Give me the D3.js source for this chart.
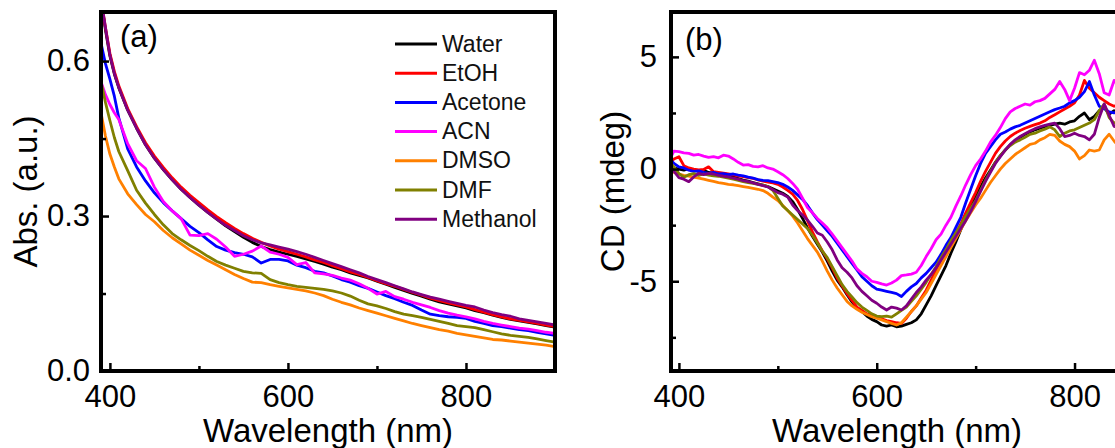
<!DOCTYPE html>
<html>
<head>
<meta charset="utf-8">
<script src="https://cdn.jsdelivr.net/npm/d3@7"></script>
<style>
body { margin: 0; background: #fff; }
svg { display: block; font-family: "Liberation Sans", Arial, sans-serif; }
</style>
</head>
<body>
<svg class="chart" width="1115" height="448"></svg>
<script>
/* Absorption (a) and CD (b) spectra of the sample in seven solvents */

var solvents = ["Water", "EtOH", "Acetone", "ACN", "DMSO", "DMF", "Methanol"];
var lineColors = ["#000000", "#ff0000", "#0000ff", "#ff00ff", "#ff8000", "#808000", "#800080"];

// (a) absorbance
var absWavelength = [390, 395, 400, 405, 410, 420, 430, 440, 450, 460, 470, 480, 490, 500, 510,
	520, 530, 540, 550, 560, 570, 580, 590, 600, 610, 620, 630, 640, 650, 660, 670, 680, 690, 700, 710,
	720, 730, 740, 750, 760, 770, 780, 790, 800, 810, 820, 830, 840, 850, 860, 870, 880, 890, 900];
var absWater = [0.72, 0.66, 0.61, 0.575, 0.548,
	0.505, 0.47, 0.438, 0.412, 0.39, 0.37, 0.352, 0.336, 0.321, 0.307,
	0.294, 0.281, 0.27, 0.259, 0.249, 0.241, 0.235, 0.23, 0.226, 0.222,
	0.217, 0.212, 0.207, 0.201, 0.196, 0.19, 0.185, 0.18, 0.174, 0.168,
	0.162, 0.156, 0.15, 0.145, 0.139, 0.134, 0.13, 0.126, 0.122, 0.117,
	0.113, 0.108, 0.104, 0.1, 0.097, 0.094, 0.091, 0.088, 0.085];
var absEtOH = [0.72, 0.665, 0.615, 0.58, 0.552,
	0.508, 0.473, 0.442, 0.416, 0.394, 0.374, 0.356, 0.34, 0.326, 0.312,
	0.299, 0.287, 0.276, 0.266, 0.257, 0.249, 0.242, 0.236, 0.231, 0.226,
	0.221, 0.215, 0.21, 0.204, 0.198, 0.192, 0.187, 0.181, 0.175, 0.169,
	0.164, 0.158, 0.152, 0.147, 0.141, 0.136, 0.132, 0.128, 0.124, 0.119,
	0.114, 0.109, 0.105, 0.101, 0.098, 0.095, 0.092, 0.089, 0.086];
var absAcetone = [0.635, 0.595, 0.565, 0.532, 0.49,
	0.43, 0.395, 0.368, 0.345, 0.326, 0.31, 0.295, 0.28, 0.268, 0.254,
	0.241, 0.234, 0.229, 0.226, 0.221, 0.209, 0.216, 0.216, 0.213, 0.205,
	0.2, 0.193, 0.19, 0.184, 0.177, 0.172, 0.165, 0.16, 0.153, 0.146,
	0.14, 0.133, 0.127, 0.118, 0.11, 0.107, 0.105, 0.104, 0.102, 0.096,
	0.092, 0.088, 0.086, 0.083, 0.08, 0.078, 0.075, 0.072, 0.069];
var absACN = [0.56, 0.535, 0.516, 0.5, 0.487,
	0.44, 0.407, 0.392, 0.356, 0.328, 0.31, 0.295, 0.263, 0.262, 0.266,
	0.255, 0.24, 0.222, 0.226, 0.232, 0.242, 0.23, 0.226, 0.22, 0.206,
	0.21, 0.19, 0.188, 0.185, 0.18, 0.176, 0.169, 0.16, 0.149, 0.154,
	0.144, 0.139, 0.133, 0.128, 0.123, 0.117, 0.112, 0.108, 0.105, 0.101,
	0.096, 0.092, 0.089, 0.086, 0.083, 0.081, 0.078, 0.075, 0.073];
var absDMSO = [0.5, 0.455, 0.42, 0.395, 0.372,
	0.343, 0.322, 0.303, 0.289, 0.272, 0.258, 0.246, 0.234, 0.224, 0.214,
	0.205, 0.196, 0.187, 0.179, 0.172, 0.171, 0.167, 0.164, 0.161, 0.158,
	0.155, 0.151, 0.146, 0.139, 0.133, 0.128, 0.122, 0.117, 0.112, 0.107,
	0.102, 0.097, 0.092, 0.088, 0.084, 0.08, 0.077, 0.073, 0.07, 0.067,
	0.064, 0.061, 0.06, 0.058, 0.056, 0.054, 0.052, 0.05, 0.047];
var absDMF = [0.56, 0.52, 0.485, 0.452, 0.425,
	0.388, 0.35, 0.325, 0.303, 0.283, 0.266, 0.254, 0.243, 0.233, 0.222,
	0.212, 0.205, 0.199, 0.193, 0.19, 0.189, 0.177, 0.171, 0.167, 0.164,
	0.162, 0.16, 0.158, 0.155, 0.151, 0.145, 0.137, 0.13, 0.126, 0.121,
	0.115, 0.11, 0.107, 0.104, 0.1, 0.096, 0.092, 0.088, 0.086, 0.084,
	0.08, 0.076, 0.072, 0.069, 0.067, 0.065, 0.062, 0.059, 0.056];
var absMethanol = [0.72, 0.665, 0.612, 0.576, 0.549,
	0.505, 0.47, 0.438, 0.412, 0.39, 0.37, 0.352, 0.336, 0.321, 0.307,
	0.294, 0.282, 0.272, 0.262, 0.254, 0.248, 0.244, 0.24, 0.236, 0.231,
	0.226, 0.22, 0.214, 0.208, 0.202, 0.196, 0.19, 0.183, 0.177, 0.171,
	0.165, 0.159, 0.153, 0.148, 0.143, 0.139, 0.135, 0.131, 0.127, 0.124,
	0.118, 0.113, 0.109, 0.106, 0.101, 0.098, 0.095, 0.092, 0.089];

// (b) circular dichroism, mdeg
var cdWavelength = [392, 395,
	400, 405, 410, 415, 420, 425, 430, 435, 440, 445, 450, 455, 460, 465, 470, 475, 480, 485, 490, 495,
	500, 505, 510, 515, 520, 525, 530, 535, 540, 545, 550, 555, 560, 565, 570, 575, 580, 585, 590, 595,
	600, 605, 610, 615, 620, 625, 630, 635, 640, 645, 650, 655, 660, 665, 670, 675, 680, 685, 690, 695,
	700, 705, 710, 715, 720, 725, 730, 735, 740, 745, 750, 755, 760, 765, 770, 775, 780, 785, 790, 795,
	800, 805, 810, 815, 820, 825, 830, 835, 840, 845, 850];
var cdWater = [0.10, 0.05,
	0.00, -0.05, 0.02, -0.04, -0.10, -0.06, -0.15, -0.19, -0.22, -0.25, -0.30, -0.35, -0.42, -0.49, -0.54, -0.60, -0.66, -0.72, -0.78, -0.88,
	-0.98, -1.08, -1.22, -1.45, -1.80, -2.20, -2.62, -3.00, -3.35, -3.70, -4.10, -4.55, -4.95, -5.25, -5.60, -5.92, -6.18, -6.35, -6.55, -6.70,
	-6.80, -6.95, -7.00, -6.95, -7.03, -7.00, -6.92, -6.85, -6.72, -6.45, -6.05, -5.65, -5.20, -4.75, -4.30, -3.75, -3.25, -2.70, -2.15, -1.70,
	-1.25, -0.80, -0.40, -0.05, 0.30, 0.60, 0.85, 1.08, 1.25, 1.42, 1.55, 1.65, 1.75, 1.82, 1.89, 1.95, 2.00, 2.05, 2.00, 2.10,
	2.15, 2.35, 2.50, 2.20, 2.35, 2.60, 2.75, 2.45, 2.60, 2.50, 2.55];
var cdEtOH = [0.33, 0.45,
	0.55, 0.15, 0.05, 0.00, -0.04, -0.02, 0.10, -0.12, -0.15, -0.18, -0.22, -0.26, -0.30, -0.34, -0.38, -0.42, -0.48, -0.54, -0.58, -0.62,
	-0.68, -0.80, -0.95, -1.12, -1.40, -1.80, -2.30, -2.80, -3.25, -3.65, -4.00, -4.40, -4.85, -5.20, -5.55, -5.85, -6.15, -6.30, -6.45, -6.50,
	-6.60, -6.68, -6.75, -6.80, -6.85, -6.88, -6.65, -6.35, -6.10, -5.75, -5.40, -4.95, -4.50, -4.05, -3.70, -3.25, -2.85, -2.45, -1.95, -1.50,
	-1.05, -0.55, -0.10, 0.30, 0.70, 1.00, 1.25, 1.45, 1.60, 1.72, 1.82, 1.90, 1.98, 2.05, 2.15, 2.30, 2.42, 2.55, 2.68, 2.80,
	2.95, 3.30, 3.95, 3.60, 3.40, 3.20, 3.05, 2.90, 2.80, 2.85, 2.80];
var cdAcetone = [0.40, 0.25,
	0.10, 0.05, -0.05, -0.10, -0.08, -0.15, -0.19, -0.15, -0.22, -0.20, -0.25, -0.22, -0.27, -0.30, -0.36, -0.40, -0.47, -0.50, -0.52, -0.56,
	-0.60, -0.68, -0.80, -0.95, -1.15, -1.35, -1.62, -1.95, -2.25, -2.50, -2.75, -3.00, -3.30, -3.60, -3.90, -4.20, -4.50, -4.80, -5.00, -5.20,
	-5.35, -5.40, -5.45, -5.50, -5.55, -5.68, -5.45, -5.25, -5.10, -4.85, -4.65, -4.40, -4.15, -3.80, -3.40, -3.05, -2.60, -2.15, -1.50, -0.90,
	-0.30, 0.25, 0.70, 1.00, 1.30, 1.55, 1.65, 1.78, 1.88, 1.95, 2.05, 2.15, 2.25, 2.35, 2.45, 2.55, 2.65, 2.72, 2.80, 2.95,
	3.05, 3.20, 3.45, 3.90, 3.30, 2.80, 2.70, 2.55, 2.50, 2.60, 2.55];
var cdACN = [0.55, 0.80,
	0.78, 0.72, 0.70, 0.62, 0.65, 0.58, 0.52, 0.55, 0.50, 0.62, 0.58, 0.45, 0.30, 0.18, 0.20, 0.12, 0.10, 0.15, 0.05, 0.00,
	-0.12, -0.25, -0.42, -0.64, -0.90, -1.30, -1.72, -1.95, -2.20, -2.40, -2.62, -2.90, -3.20, -3.50, -3.80, -4.10, -4.45, -4.65, -4.80, -5.00,
	-5.05, -5.12, -5.17, -5.08, -4.95, -4.75, -4.72, -4.68, -4.60, -4.30, -3.90, -3.55, -3.15, -2.90, -2.50, -2.15, -1.65, -1.20, -0.70, -0.25,
	0.15, 0.45, 0.80, 1.20, 1.50, 1.85, 2.25, 2.55, 2.70, 2.80, 2.90, 2.85, 3.00, 3.05, 3.15, 3.35, 3.55, 3.90, 3.55, 3.05,
	3.60, 4.30, 4.20, 4.40, 4.85, 4.25, 3.40, 3.30, 3.95, 3.70, 3.80];
var cdDMSO = [-0.05, -0.15,
	-0.22, -0.28, -0.32, -0.36, -0.40, -0.45, -0.50, -0.55, -0.60, -0.64, -0.68, -0.70, -0.74, -0.78, -0.82, -0.86, -0.90, -0.96, -1.08, -1.25,
	-1.40, -1.62, -1.85, -2.10, -2.40, -2.75, -3.10, -3.40, -3.70, -4.10, -4.55, -4.95, -5.30, -5.60, -5.90, -6.10, -6.25, -6.38, -6.48, -6.58,
	-6.65, -6.72, -6.80, -6.88, -6.95, -6.85, -6.60, -6.35, -6.10, -5.80, -5.50, -5.10, -4.70, -4.30, -3.90, -3.50, -3.10, -2.70, -2.30, -1.95,
	-1.60, -1.30, -0.95, -0.60, -0.30, 0.00, 0.25, 0.45, 0.65, 0.80, 0.95, 1.10, 1.15, 1.30, 1.40, 1.55, 1.50, 1.25, 1.10, 1.00,
	0.80, 0.45, 0.60, 0.85, 0.80, 0.85, 1.30, 1.55, 1.25, 1.00, 0.90];
var cdDMF = [0.25, 0.10,
	-0.20, -0.36, -0.25, -0.20, -0.28, -0.22, -0.27, -0.30, -0.32, -0.36, -0.40, -0.45, -0.50, -0.56, -0.60, -0.64, -0.68, -0.72, -0.78, -0.95,
	-1.30, -1.65, -1.85, -2.05, -2.25, -2.45, -2.65, -2.95, -3.30, -3.65, -3.95, -4.35, -4.75, -5.15, -5.45, -5.70, -5.95, -6.15, -6.30, -6.45,
	-6.55, -6.58, -6.55, -6.60, -6.45, -6.30, -6.15, -5.90, -5.65, -5.35, -5.05, -4.70, -4.35, -3.95, -3.60, -3.20, -2.85, -2.50, -2.10, -1.75,
	-1.40, -0.95, -0.50, -0.10, 0.30, 0.60, 0.85, 1.05, 1.20, 1.30, 1.42, 1.55, 1.60, 1.70, 1.78, 1.88, 1.75, 1.45, 1.60, 1.70,
	1.75, 1.85, 1.95, 2.05, 2.20, 2.60, 2.90, 2.30, 2.05, 2.10, 2.00];
var cdMethanol = [0.03, -0.10,
	-0.38, -0.45, -0.56, -0.35, -0.19, -0.25, -0.19, -0.22, -0.28, -0.32, -0.35, -0.40, -0.45, -0.52, -0.56, -0.62, -0.68, -0.74, -0.80, -0.92,
	-1.05, -1.12, -1.25, -1.60, -1.85, -2.05, -2.27, -2.55, -2.85, -2.95, -3.25, -3.60, -4.05, -4.40, -4.60, -4.85, -5.20, -5.45, -5.65, -5.85,
	-5.98, -6.15, -6.28, -6.15, -6.20, -6.28, -6.10, -5.80, -5.50, -5.25, -4.95, -4.70, -4.40, -4.05, -3.70, -3.35, -3.00, -2.65, -2.30, -1.90,
	-1.45, -1.00, -0.55, -0.15, 0.25, 0.55, 0.85, 1.10, 1.30, 1.45, 1.58, 1.70, 1.80, 1.88, 1.95, 2.00, 2.05, 1.80, 1.45, 1.50,
	1.60, 1.50, 1.45, 1.30, 1.55, 2.30, 2.90, 2.40, 1.90, 1.85, 1.80];

var absTicks = [0, 0.3, 0.6], absMinor = [0.15, 0.45];
var cdTicks = [-5, 0, 5], cdMinor = [-7.5, -2.5, 2.5];
var wlTicks = [400, 600, 800], wlMinor = [500, 700];

var svg = d3.select(".chart");

// Draw one framed panel with inward ticks
function drawPanel(p) {
	var x = d3.scaleLinear().domain(p.xDomain).range([p.left, p.left + p.width]);
	var y = d3.scaleLinear().domain(p.yDomain).range([p.top + p.height, p.top]);

	var g = svg.append("g");

	g.append("clipPath")
		.attr("id", p.id + "-clip")
	  .append("rect")
		.attr("x", p.left)
		.attr("y", p.top)
		.attr("width", p.width)
		.attr("height", p.height);

	var line = d3.line()
		.x(function(d) { return x(d[0]); })
		.y(function(d) { return y(d[1]); });

	var lines = g.append("g").attr("clip-path", "url(#" + p.id + "-clip)");
	p.series.forEach(function(vals, i) {
		var pts = vals.map(function(v, j) { return [p.wavelength[j], v]; });
		lines.append("path")
			.attr("d", line(pts))
			.attr("fill", "none")
			.attr("stroke", lineColors[i])
			.attr("stroke-width", 2.8)
			.attr("stroke-linejoin", "round");
	});

	var xAxis = d3.axisBottom(x).tickValues(wlTicks).tickSizeInner(-8).tickSizeOuter(0).tickPadding(14);
	var xMinor = d3.axisBottom(x).tickValues(wlMinor).tickSizeInner(-5).tickSizeOuter(0).tickFormat("");
	var yAxis = d3.axisLeft(y).tickValues(p.yTicks).tickFormat(p.yFormat)
		.tickSizeInner(-8).tickSizeOuter(0).tickPadding(p.yPad);
	var yMinor = d3.axisLeft(y).tickValues(p.yMinor).tickSizeInner(-5).tickSizeOuter(0).tickFormat("");

	[[xAxis, "translate(0," + (p.top + p.height) + ")"],
	 [xMinor, "translate(0," + (p.top + p.height) + ")"],
	 [yAxis, "translate(" + p.left + ",0)"],
	 [yMinor, "translate(" + p.left + ",0)"]].forEach(function(a) {
		var ax = g.append("g").attr("transform", a[1]).call(a[0]);
		ax.select(".domain").remove();
		ax.selectAll("line").attr("stroke", "#000").attr("stroke-width", 2.5);
		ax.selectAll("text")
			.attr("fill", "#000")
			.style("font-size", "31px")
			.style("font-family", "\"Liberation Sans\", Arial, sans-serif");
	});

	g.append("rect")
		.attr("x", p.left)
		.attr("y", p.top)
		.attr("width", p.width)
		.attr("height", p.height)
		.attr("fill", "none")
		.attr("stroke", "#000")
		.attr("stroke-width", 4);

	g.append("text")
		.attr("x", p.left + p.width / 2)
		.attr("y", 442)
		.attr("text-anchor", "middle")
		.style("font-size", "33px")
		.text("Wavelength (nm)");

	g.append("text")
		.attr("transform", "translate(" + p.yTitleX + "," + (p.top + p.height / 2) + ") rotate(-90)")
		.attr("text-anchor", "middle")
		.style("font-size", "33px")
		.text(p.yTitle);

	g.append("text")
		.attr("x", p.tagX)
		.attr("y", p.tagY)
		.style("font-size", "31px")
		.text(p.tag);

	return g;
}

var panelA = drawPanel({
	id: "abs", left: 101, top: 12, width: 454, height: 359,
	xDomain: [390, 900], yDomain: [0, 0.695],
	yTicks: absTicks, yMinor: absMinor, yFormat: d3.format(".1f"), yPad: 11,
	wavelength: absWavelength,
	series: [absWater, absEtOH, absAcetone, absACN, absDMSO, absDMF, absMethanol],
	yTitle: "Abs. (a.u.)", yTitleX: 37,
	tag: "(a)", tagX: 120, tagY: 47
});

drawPanel({
	id: "cd", left: 671, top: 12, width: 452, height: 359,
	xDomain: [392, 849], yDomain: [-9, 7],
	yTicks: cdTicks, yMinor: cdMinor, yFormat: function(d) { return String(d); }, yPad: 14,
	wavelength: cdWavelength,
	series: [cdWater, cdEtOH, cdAcetone, cdACN, cdDMSO, cdDMF, cdMethanol],
	yTitle: "CD (mdeg)", yTitleX: 624,
	tag: "(b)", tagX: 685, tagY: 50
});

// Legend in panel (a)
var legend = panelA.append("g");
solvents.forEach(function(name, i) {
	var ly = 44 + i * 29.2;
	legend.append("line")
		.attr("x1", 395).attr("x2", 437)
		.attr("y1", ly).attr("y2", ly)
		.attr("stroke", lineColors[i])
		.attr("stroke-width", 3);
	legend.append("text")
		.attr("x", 442)
		.attr("y", ly + 7.5)
		.style("font-size", "23px")
		.attr("fill", "#111")
		.text(name);
});
</script>
</body>
</html>
